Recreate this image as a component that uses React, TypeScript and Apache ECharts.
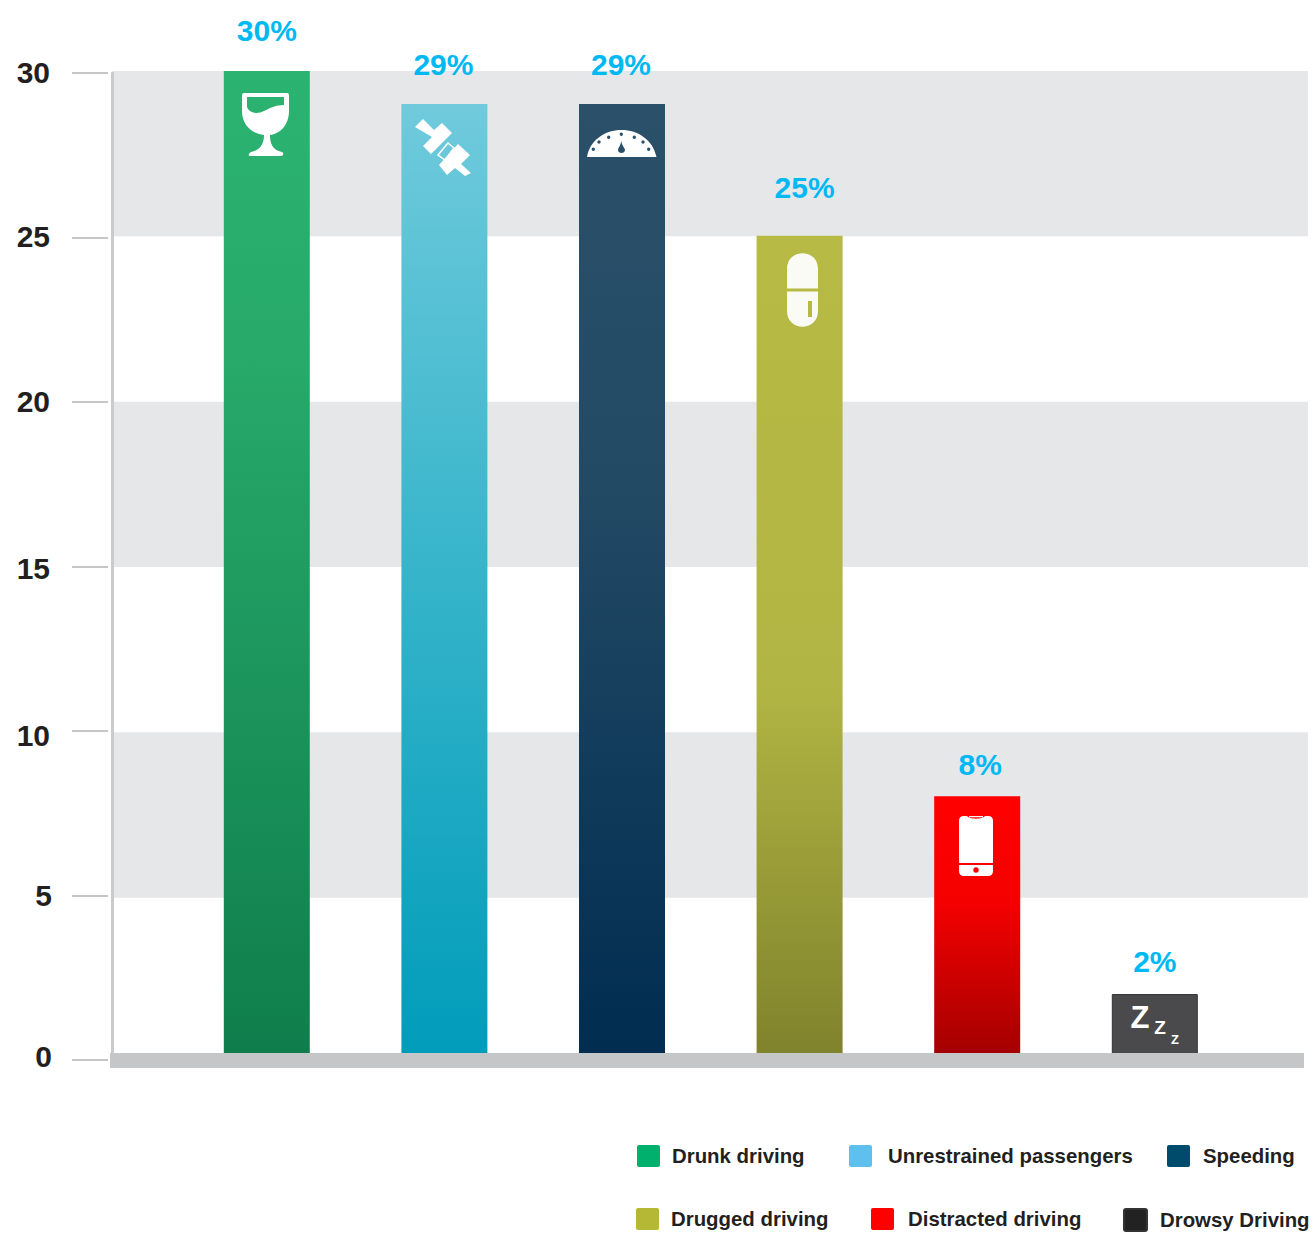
import React, { useEffect, useRef } from "react";
import * as echarts from "echarts";

// ---- data ----
const categories = ["Drunk driving", "Unrestrained passengers", "Speeding", "Drugged driving", "Distracted driving", "Drowsy Driving"];
const values = [30, 29, 29, 25, 8, 2];

// ---- styles ----
const swatchColors = ["#00b06c", "#5fc0ee", "#004a6b", "#b5b835", "#ff0000", "#222222"];
const gradients: [number, string][][] = [
  [[0, "#2bb371"], [0.3, "#27a96a"], [1, "#0f7d4b"]],
  [[0, "#70cadc"], [0.5, "#35b4ca"], [1, "#009cba"]],
  [[0, "#2b5069"], [0.4, "#224a65"], [1, "#002c50"]],
  [[0, "#b7ba44"], [0.55, "#b1b543"], [1, "#7f822b"]],
  [[0, "#ff0000"], [0.4, "#f50000"], [1, "#a00000"]],
  [[0, "#4a4a4c"], [1, "#4a4a4c"]],
];
const labelOffsets = [[0, -26], [-1, -24], [-1, -24], [5, -33], [3, -17], [0, -18]];
const legendPos = [
  { swatch: 637, text: 672, top: 1145 },
  { swatch: 849, text: 888, top: 1145 },
  { swatch: 1167, text: 1203, top: 1145 },
  { swatch: 636, text: 671, top: 1208 },
  { swatch: 871, text: 908, top: 1208 },
  { swatch: 1123, text: 1159, top: 1208 },
];
const FONT = '"Liberation Sans", sans-serif';
const SWATCH_ICON = "path://M2 0H21Q23 0 23 2V20Q23 22 21 22H2Q0 22 0 20V2Q0 0 2 0Z";

// ---- icons ----
const hole = (x: number, y: number, r: number) => `M${x - r} ${y}a${r} ${r} 0 1 0 ${2 * r} 0a${r} ${r} 0 1 0 ${-2 * r} 0Z`;
const wine =
  "M244 93H287Q289 93 289 95V111C289 125 280 134 270 135C270 143 272 150 282 152Q284 153 283 155Q282 156 281 156H250Q248 156 249 154Q249 153 251 152C261 150 264 143 264 135C252 134 242 125 242 111V95Q242 93 244 93Z" +
  "M247 97V107C250 114 258 114 264 111C270 108 276 105 284 105V97Z";
const band =
  "M415 127L423 119L434 130L442 123L452 133L431 154L423 146L432 137Z" +
  "M458 144L470 155L461 164L471 173L465 176L455 168L447 175L439 165Z";
const connector = "M438 155L448 143L454 148L445 160Z";
const gauge =
  "M587 157C590 140 605 130 621.5 130C638 130 653 140 656.5 157Z" +
  [[593.3, 149.3], [599, 142], [608.7, 137.3], [621.3, 134.3], [634.3, 137.3], [643, 142], [648.7, 149.3]]
    .map(([x, y]) => hole(x, y, 1.7))
    .join("") +
  "M621.3 141C620.5 146 618 148 618 150C618 154 625 154 625 150C625 148 622 146 621.3 141Z";
const pill =
  "M787 288.5V269C787 248 818 248 818 269V288.5Z" +
  "M787 291.5H818V311C818 332 787 332 787 311Z" +
  "M808 301V317H812V301Z";
const phone =
  "M964 816H967C969 819.5 983 819.5 985 816H988Q993 816 993 821V863H959V821Q959 816 964 816Z" +
  "M969 816H983V817.2H969Z" +
  "M959 865H993V871Q993 876 988 876H964Q959 876 959 871Z" +
  hole(976, 870, 2.7);

const iconShapes: Record<string, string> = { iconWine: wine, iconBand: band, iconConnector: connector, iconGauge: gauge, iconPill: pill, iconPhone: phone };
Object.keys(iconShapes).forEach((k) => echarts.graphic.registerShape(k, echarts.graphic.extendPath(iconShapes[k], {})));

export default function App() {
  const ref = useRef<HTMLDivElement>(null);
  useEffect(() => {
    const chart = echarts.init(ref.current!, undefined, { renderer: "svg" });
    const hidden = { show: false, axisLine: { show: false }, axisTick: { show: false }, axisLabel: { show: false }, splitLine: { show: false } };
    const zzz = (text: string, x: number, y: number, size: number) => ({
      type: "text", x, y, z: 60,
      style: { text, fill: "#ffffff", fontFamily: FONT, fontWeight: "bold", fontSize: size, align: "center", verticalAlign: "middle" },
    });
    const tickStyle = { color: "#231f20", fontFamily: FONT, fontWeight: "bold" as const, fontSize: 30 };
    chart.setOption({
      animation: false,
      backgroundColor: "#ffffff",
      grid: [
        { left: 113, right: 7, top: 71, bottom: 184 },
        { left: 178, right: 71.4, top: 71, bottom: 187 },
        { left: 108, right: 7, top: 73, bottom: 187 },
      ],
      xAxis: [
        { type: "value", gridIndex: 0, ...hidden },
        { type: "category", gridIndex: 1, data: categories, ...hidden },
        { type: "value", gridIndex: 2, ...hidden },
      ],
      yAxis: [
        {
          type: "value", gridIndex: 0, min: 0, max: 30, interval: 5,
          axisLine: { show: false }, axisTick: { show: false }, axisLabel: { show: false }, splitLine: { show: false },
          splitArea: { show: true, areaStyle: { color: ["rgba(255,255,255,0)", "#e6e7e9"] } },
        },
        { type: "value", gridIndex: 1, min: 0, max: 30, interval: 5, ...hidden },
        {
          type: "value", gridIndex: 2, min: 0, max: 30, interval: 5,
          axisLine: { show: false },
          axisTick: { show: true, length: 36, lineStyle: { color: "#c6c6c6", width: 2 } },
          axisLabel: {
            show: true, margin: 56, ...tickStyle,
            formatter: (v: number) => (v === 0 ? `{zero|${v}}` : v === 5 ? `{five|${v}}` : v === 10 ? `{ten|${v}}` : v === 15 ? `{fif|${v}}` : `{n|${v}}`),
            rich: {
              n: { ...tickStyle, padding: [0, 2, 2, 0] },
              zero: { ...tickStyle, padding: [0, 0, 8, 0] },
              five: { ...tickStyle, padding: [0, 0, 1, 0] },
              ten: { ...tickStyle, padding: [8, 2, 0, 0] },
              fif: { ...tickStyle, padding: [3, 2, 0, 0] },
            },
          },
          splitLine: { show: false },
        },
        {
          type: "value", gridIndex: 2, min: 0, max: 30, interval: 5, position: "left", offset: -4.5,
          axisLine: { show: true, onZero: false, lineStyle: { color: "#cbcbcb", width: 3 } },
          axisTick: { show: false }, axisLabel: { show: false }, splitLine: { show: false },
        },
      ],
      legend: categories.map((name, i) => ({
        data: [{ name, itemStyle: { color: swatchColors[i] } }],
        left: legendPos[i].swatch,
        top: legendPos[i].top,
        padding: 0,
        icon: SWATCH_ICON,
        itemWidth: 23,
        itemHeight: 22,
        selectedMode: false,
        textStyle: {
          color: "#231f20", fontFamily: FONT, fontWeight: "bold", fontSize: 20.4,
          padding: [2, 0, 0, legendPos[i].text - legendPos[i].swatch - 28],
        },
      })),
      series: categories.map((name, i) => ({
        name,
        type: "bar",
        xAxisIndex: 1,
        yAxisIndex: 1,
        stack: "all",
        barWidth: 86,
        data: values.map((v, j) => (j === i ? v : null)),
        itemStyle: {
          color: new echarts.graphic.LinearGradient(0, 0, 0, 1, gradients[i].map(([offset, color]) => ({ offset, color }))),
          ...(i === 5 ? { borderColor: "#333335", borderWidth: 1 } : {}),
        },
        label: {
          show: true, position: "top", distance: 0, offset: labelOffsets[i],
          formatter: "{c}%", color: "#00b9f2", fontFamily: FONT, fontWeight: "bold", fontSize: 30,
        },
      })),
      graphic: [
        { type: "rect", z: 50, shape: { x: 110, y: 1053, width: 1194, height: 15 }, style: { fill: "#c5c6c8" } },
        { type: "iconWine", z: 60, style: { fill: "#ffffff" } },
        { type: "iconBand", z: 60, style: { fill: "#ffffff" } },
        { type: "iconConnector", z: 60, style: { fill: "none", stroke: "#ffffff", lineWidth: 1.5 } },
        { type: "iconGauge", z: 60, style: { fill: "#ffffff" } },
        { type: "iconPill", z: 60, style: { fill: "#fbfbf6" } },
        { type: "iconPhone", z: 60, style: { fill: "#ffffff" } },
        zzz("Z", 1140, 1017, 31),
        zzz("Z", 1160, 1027, 19),
        zzz("Z", 1175, 1039, 13),
      ],
    });
    return () => chart.dispose();
  }, []);
  return <div ref={ref} style={{ position: "absolute", left: 0, top: 0, width: 1315, height: 1247 }} />;
}
